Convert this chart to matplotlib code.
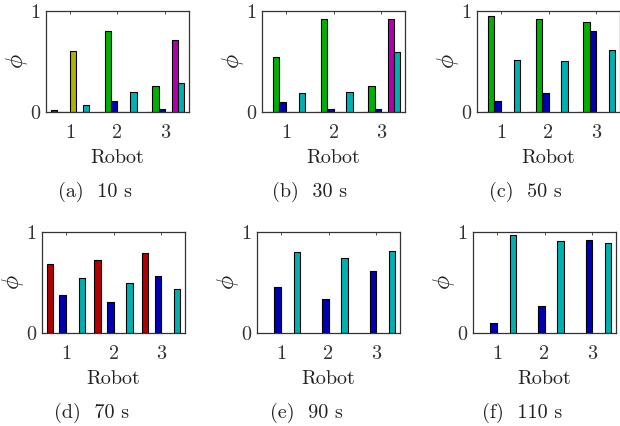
import numpy as np
import matplotlib
matplotlib.use("Agg")
import matplotlib.pyplot as plt

plt.rcParams['font.family'] = ['cmr10', 'DejaVu Serif']
plt.rcParams['mathtext.fontset'] = 'cm'
plt.rcParams['axes.formatter.use_mathtext'] = True

robots = [1, 2, 3]
series_names = ['red', 'green', 'blue', 'olive', 'magenta', 'cyan']
series_colors = ['#b00000', '#00b000', '#0000b0', '#b0b000', '#b000b0', '#00b0b0']
captions = ['(a)  10 s', '(b)  30 s', '(c)  50 s', '(d)  70 s', '(e)  90 s', '(f)  110 s']

nan = np.nan
# (a) 10 s
a_red = [0.015, 0, 0]
a_green = [0, 0.806, 0.257]
a_blue = [0, 0.105, 0.033]
a_olive = [0.60, 0, 0]
a_magenta = [0, 0, 0.714]
a_cyan = [0.072, 0.194, 0.286]
# (b) 30 s
b_red = [0, 0, 0]
b_green = [0.543, 0.92, 0.257]
b_blue = [0.102, 0.033, 0.033]
b_olive = [0, 0, 0]
b_magenta = [0, 0, 0.92]
b_cyan = [0.188, 0.194, 0.59]
# (c) 50 s
c_red = [0, 0, 0]
c_green = [0.954, 0.924, 0.888]
c_blue = [0.112, 0.188, 0.806]
c_olive = [nan, nan, nan]
c_magenta = [nan, nan, nan]
c_cyan = [0.513, 0.507, 0.615]
# (d) 70 s
d_red = [0.682, 0.721, 0.790]
d_green = [nan, nan, nan]
d_blue = [0.377, 0.305, 0.567]
d_olive = [nan, nan, nan]
d_magenta = [nan, nan, nan]
d_cyan = [0.541, 0.492, 0.433]
# (e) 90 s
e_red = [nan, nan, nan]
e_green = [nan, nan, nan]
e_blue = [0.459, 0.338, 0.616]
e_olive = [nan, nan, nan]
e_magenta = [nan, nan, nan]
e_cyan = [0.80, 0.744, 0.807]
# (f) 110 s
f_red = [nan, nan, nan]
f_green = [nan, nan, nan]
f_blue = [0.098, 0.269, 0.918]
f_olive = [nan, nan, nan]
f_magenta = [nan, nan, nan]
f_cyan = [0.967, 0.915, 0.895]

panels = [
    [a_red, a_green, a_blue, a_olive, a_magenta, a_cyan],
    [b_red, b_green, b_blue, b_olive, b_magenta, b_cyan],
    [c_red, c_green, c_blue, c_olive, c_magenta, c_cyan],
    [d_red, d_green, d_blue, d_olive, d_magenta, d_cyan],
    [e_red, e_green, e_blue, e_olive, e_magenta, e_cyan],
    [f_red, f_green, f_blue, f_olive, f_magenta, f_cyan],
]

W, H = 620, 426
fig = plt.figure(figsize=(W / 100, H / 100), dpi=100)

# axes boxes in pixels: left, top
boxes = [(46, 11), (262, 11), (477, 11), (42, 232), (257, 232), (473, 232)]
aw, ah = 143, 101
cap_x = [95, 310, 525, 92, 306, 522]
cap_y = [192, 192, 192, 413, 413, 413]

fs = 14.5
nser = len(series_names)
slot = 0.8 / nser
for i, (vals, (lx, ty)) in enumerate(zip(panels, boxes)):
    ax = fig.add_axes([lx / W, 1 - (ty + ah) / H, aw / W, ah / H])
    x = np.array(robots, dtype=float)
    for k, (sv, col) in enumerate(zip(vals, series_colors)):
        sv = np.array(sv, dtype=float)
        m = ~np.isnan(sv)
        if not m.any():
            continue
        off = (k - (nser - 1) / 2) * slot
        ax.bar(x[m] + off, sv[m], width=slot, color=col, edgecolor='black',
               linewidth=0.8, zorder=2)
    ax.set_xlim(0.5, 3.5)
    ax.set_ylim(0, 1)
    ax.set_xticks(robots)
    ax.set_xticklabels([str(r) for r in robots])
    ax.set_yticks([0, 1])
    ax.set_yticklabels(['0', '1'])
    ax.tick_params(direction='in', top=True, right=True, length=2.5,
                   width=0.6, labelsize=fs, colors='#333333')
    ax.tick_params(axis='x', pad=9)
    ax.tick_params(axis='y', pad=4)
    for sp in ax.spines.values():
        sp.set_color('#333333')
        sp.set_linewidth(0.9)
    ax.set_xlabel('Robot', fontsize=fs, color='#222222')
    ax.xaxis.set_label_coords(0.5, -0.37)
    ax.set_ylabel(r'$\phi$', fontsize=17, color='#222222')
    ax.yaxis.set_label_coords(-0.115, 0.5)
    fig.text(cap_x[i] / W, 1 - cap_y[i] / H, captions[i], fontsize=fs,
             ha='center', va='center', color='#222222')

fig.savefig('out.png', dpi=100)
